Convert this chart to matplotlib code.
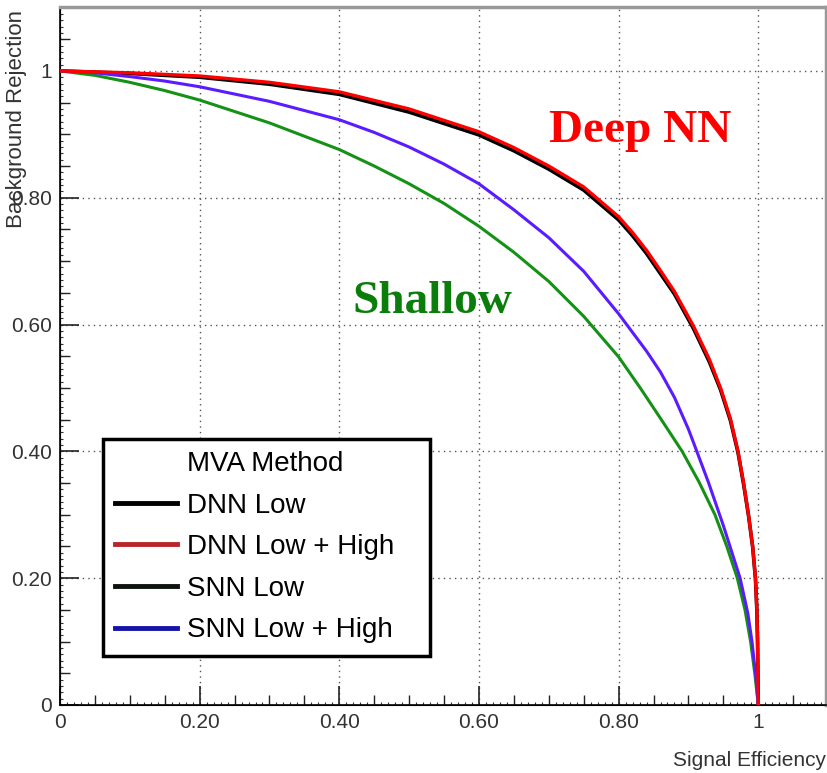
import numpy as np
import matplotlib.pyplot as plt
from matplotlib.lines import Line2D
from matplotlib.ticker import MultipleLocator, FixedLocator

# ROC curves (signal efficiency, background rejection)
dnn_high_x = [0, 0.1, 0.2, 0.3, 0.4, 0.5, 0.6, 0.65, 0.7, 0.75, 0.8, 0.82, 0.84, 0.86, 0.88,
              0.907, 0.93, 0.946, 0.96, 0.971, 0.979, 0.986, 0.992, 0.996, 0.998, 0.999, 1.0]
dnn_high_y = [1.0, 0.997, 0.992, 0.982, 0.967, 0.940, 0.904, 0.879, 0.850, 0.817, 0.770, 0.745, 0.717, 0.685, 0.652,
              0.598, 0.545, 0.500, 0.452, 0.400, 0.350, 0.300, 0.250, 0.200, 0.150, 0.100, 0.0]

dnn_low_x = [0, 0.1, 0.2, 0.3, 0.4, 0.5, 0.6, 0.65, 0.7, 0.75, 0.8, 0.82, 0.84, 0.86, 0.88,
             0.907, 0.93, 0.946, 0.96, 0.971, 0.979, 0.986, 0.992, 0.996, 0.998, 0.999, 1.0]
dnn_low_y = [1.0, 0.996, 0.990, 0.979, 0.963, 0.935, 0.899, 0.874, 0.845, 0.812, 0.765, 0.740, 0.712, 0.680, 0.648,
             0.594, 0.541, 0.497, 0.449, 0.398, 0.348, 0.299, 0.249, 0.199, 0.149, 0.099, 0.0]

snn_low_x = [0, 0.05, 0.1, 0.15, 0.2, 0.3, 0.4, 0.45, 0.5, 0.55, 0.6, 0.65, 0.7, 0.75, 0.8, 0.831,
             0.86, 0.891, 0.915, 0.938, 0.955, 0.970, 0.981, 0.989, 0.995, 1.0]
snn_low_y = [1.0, 0.993, 0.982, 0.969, 0.954, 0.918, 0.876, 0.850, 0.822, 0.791, 0.755, 0.714, 0.668, 0.613, 0.549, 0.500,
             0.452, 0.400, 0.352, 0.300, 0.250, 0.200, 0.150, 0.100, 0.050, 0.0]

snn_high_x = [0, 0.05, 0.1, 0.15, 0.2, 0.3, 0.4, 0.45, 0.5, 0.55, 0.6, 0.65, 0.7, 0.75, 0.8, 0.84,
              0.86, 0.88, 0.9, 0.912, 0.929, 0.95, 0.974, 0.985, 0.991, 0.997, 1.0]
snn_high_y = [1.0, 0.997, 0.991, 0.984, 0.975, 0.952, 0.923, 0.903, 0.880, 0.853, 0.822, 0.781, 0.737, 0.684, 0.617, 0.558,
              0.525, 0.485, 0.435, 0.400, 0.350, 0.283, 0.200, 0.145, 0.100, 0.040, 0.0]

legend_labels = ['MVA Method', 'DNN Low', 'DNN Low + High', 'SNN Low', 'SNN Low + High']
legend_colors = ['none', 'black', '#b8262a', '#0c140c', '#1414a8']

tick_vals = [0, 0.2, 0.4, 0.6, 0.8, 1.0]
tick_labels = ['0', '0.20', '0.40', '0.60', '0.80', '1']

sans = ['Liberation Sans Narrow', 'Liberation Sans', 'DejaVu Sans']

fig = plt.figure(figsize=(8.28, 7.73), dpi=100)
ax = fig.add_axes([60 / 828, 68 / 773, 766 / 828, 697.5 / 773])

ax.plot(dnn_low_x, dnn_low_y, color='black', lw=2.6, zorder=3)
ax.plot(dnn_high_x, dnn_high_y, color='#ff0000', lw=2.4, zorder=4)
ax.plot(snn_low_x, snn_low_y, color='#159215', lw=2.2, zorder=3)
ax.plot(snn_high_x, snn_high_y, color='#5a1cff', lw=2.2, zorder=3)

ax.set_xlim(0, 1.097)
ax.set_ylim(0, 1.1)

# ticks, ROOT style: pointing inwards, three levels
ax.xaxis.set_major_locator(FixedLocator(tick_vals))
ax.yaxis.set_major_locator(FixedLocator(tick_vals))
ax.set_xticklabels(tick_labels, family=sans, fontsize=15, color='#333333')
ax.set_yticklabels(tick_labels, family=sans, fontsize=15, color='#333333')
ax.xaxis.set_minor_locator(MultipleLocator(0.05))
ax.yaxis.set_minor_locator(MultipleLocator(0.05))
ax.tick_params(which='major', direction='in', length=14, width=1.2, color='#222222', pad=6)
ax.tick_params(which='minor', direction='in', length=7, width=1.0, color='#222222')

for side in ['bottom', 'left']:
    if side == 'bottom':
        sec = ax.secondary_xaxis('bottom')
        sec.xaxis.set_major_locator(MultipleLocator(0.01))
        sec.tick_params(labelbottom=False)
    else:
        sec = ax.secondary_yaxis('left')
        sec.yaxis.set_major_locator(MultipleLocator(0.01))
        sec.tick_params(labelleft=False)
    sec.tick_params(direction='in', length=2.5, width=0.8, color='#333333')

ax.grid(True, which='major', color='#555555', linestyle=(0, (1, 3)), lw=1.0)

for s in ['top', 'right']:
    ax.spines[s].set_color('#999999')
    ax.spines[s].set_linewidth(2.5)
ax.spines['bottom'].set_linewidth(1.2)
ax.spines['left'].set_linewidth(1.2)

# legend with a blank first row as header
handles = [Line2D([], [], color=c, lw=3.5) for c in legend_colors]
leg = ax.legend(handles, legend_labels, loc='upper left', bbox_to_anchor=(0.0561, 0.382),
                prop={'family': sans, 'size': 20}, handlelength=2.2, handletextpad=0.36,
                labelspacing=0.56, borderpad=0.45, fancybox=False, framealpha=1,
                edgecolor='black', borderaxespad=0)
leg.get_frame().set_linewidth(2.5)
# a bit of empty room on the right of the box, as in the original
for t in leg.get_texts():
    t.set_text(t.get_text() + '   ')

ax.text(0.831, 0.888, 'Deep NN', color='#ff0000', fontsize=34, fontweight='bold',
        family='Liberation Serif', ha='center', va='baseline')
ax.text(0.533, 0.618, 'Shallow', color='#0b7d0b', fontsize=34, fontweight='bold',
        family='Liberation Serif', ha='center', va='baseline')

fig.text(17 / 828, 1 - 10 / 773, 'Background Rejection', rotation=90, ha='center', va='top',
         family='Liberation Sans', fontsize=16, color='#333333')
fig.text(0.998, 1 - 760 / 773, 'Signal Efficiency', ha='right', va='center',
         family=sans, fontsize=15, color='#333333')

fig.savefig('out.png', dpi=100)
